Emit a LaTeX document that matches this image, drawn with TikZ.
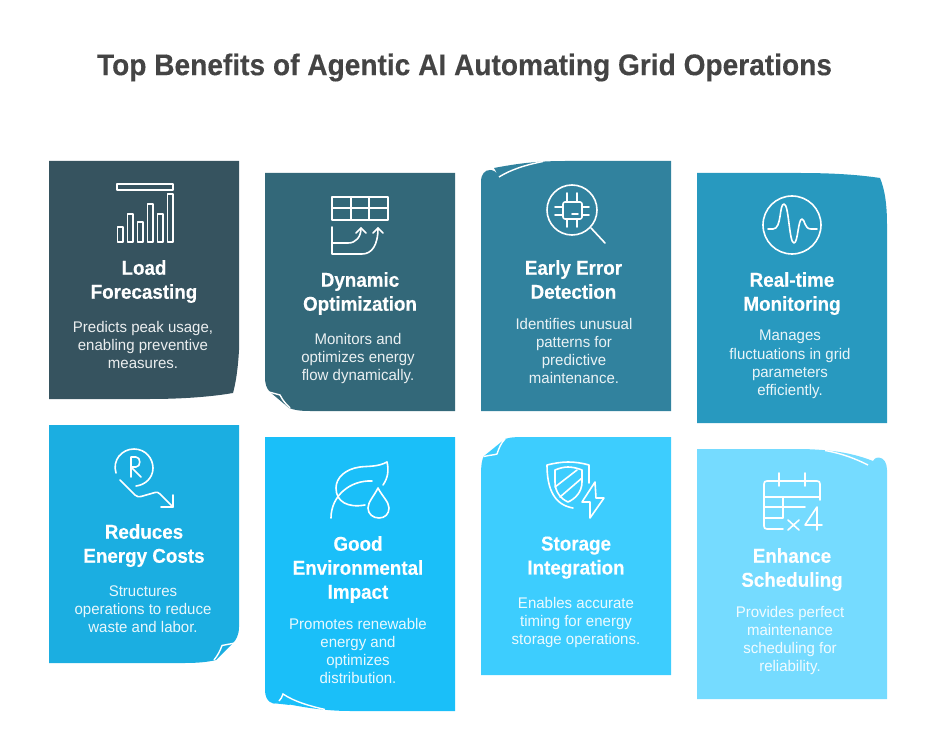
\documentclass[tikz,border=0pt]{standalone}
\usepackage{fontspec}
\setmainfont{Liberation Sans}
\newfontfamily\headfam[FakeStretch=0.94,FakeBold=0.25]{Liberation Sans Bold}
\newfontfamily\ttlfam[FakeStretch=0.94,FakeBold=0.25]{Liberation Sans Bold}
\newfontfamily\bodyfam[FakeStretch=0.975]{Liberation Sans}
\definecolor{cA}{HTML}{36535F}
\definecolor{cB}{HTML}{336879}
\definecolor{cC}{HTML}{31829E}
\definecolor{cD}{HTML}{2899BF}
\definecolor{cE}{HTML}{1BAEE1}
\definecolor{cF}{HTML}{1ABFF9}
\definecolor{cG}{HTML}{3DCDFE}
\definecolor{cH}{HTML}{75DBFF}
\definecolor{titlec}{HTML}{444444}
\tikzset{
  x=1pt,y=-1pt,
  head/.style={font=\headfam\fontsize{20}{24}\selectfont,text=white,align=center,inner sep=0pt,
    execute at begin node={\rule{0pt}{15pt}},execute at end node={\rule[-5pt]{0pt}{5pt}}},
  body/.style={font=\bodyfam\fontsize{15.4}{18.2}\selectfont,text=white,text opacity=.9,align=center,inner sep=0pt,
    execute at begin node={\rule{0pt}{11pt}},execute at end node={\rule[-4pt]{0pt}{4pt}}},
  ttl/.style={font=\ttlfam\fontsize{29.9}{34}\selectfont,text=titlec,inner sep=0pt},
  icon/.style={draw=white,line width=1.6pt,line cap=round,line join=round},
  crease/.style={draw=white,line width=1.4pt,line join=miter},
}
\begin{document}
\begin{tikzpicture}
\useasboundingbox (0,0) rectangle (935,746);
\node[ttl] (title) at (464.5,67.5) {Top Benefits of Agentic AI Automating Grid Operations};

% cards
\fill[cA] (49,161) -- (239,161) -- (239,350) .. controls (238,368) and (236,382) .. (233,393) .. controls (210,397) and (180,399) .. (150,399) -- (49,399) -- cycle;
\fill[cB] (265,173) -- (455,173) -- (455,411) -- (310,411) .. controls (300,411) and (294,410) .. (289,408) -- (270,392) .. controls (266,388) and (265,383) .. (265,377) -- cycle;
\draw[crease] (269,392) -- (280,395) .. controls (283,401) and (286,404) .. (290,408);
\fill[cC] (671,161) -- (671,411) -- (481,411) -- (481,182) .. controls (481,174) and (485,170) .. (490,170) .. controls (494,170) and (496,172) .. (498,175) -- (494,168) .. controls (515,164) and (535,161) .. (565,161) -- cycle;
\draw[crease] (499,177) .. controls (510,170) and (525,165) .. (543,161.5);
\fill[cD] (697,173) -- (800,173) .. controls (835,173) and (860,175) .. (880,178) .. controls (885,190) and (887,205) .. (887,225) -- (887,423) -- (697,423) -- cycle;
\fill[cE] (49,425) -- (239,425) -- (239,627) .. controls (239,635) and (236,640) .. (233,643) -- (216,660) .. controls (208,662) and (198,663) .. (185,663) -- (49,663) -- cycle;
\draw[crease] (235,643) -- (222,645.5) .. controls (220,651) and (218,655) .. (214,660);
\fill[cF] (265,437) -- (455,437) -- (455,711) -- (350,711) .. controls (325,711) and (300,707) .. (278,702) .. controls (275,704) and (272,704) .. (270,702) .. controls (267,700) and (265,696) .. (265,690) -- cycle;
\fill[cF] (272,703) .. controls (276,704) and (280,702) .. (283,695) -- (290,705) -- cycle;
\draw[crease] (279,701) .. controls (281,699) and (282,697) .. (283,694) .. controls (295,702) and (310,706) .. (325,709.5);
\fill[cG] (671,437) -- (671,675) -- (481,675) -- (481,475) .. controls (481,465) and (482,459) .. (484,456) -- (505,439) .. controls (510,437) and (518,437) .. (530,437) -- cycle;
\draw[crease] (484,456.5) .. controls (490,455) and (494,455) .. (497,454) .. controls (499,448) and (501,443) .. (505,439);
\fill[cH] (697,449) -- (800,449) .. controls (835,449.5) and (855,454) .. (873,461) .. controls (875,458) and (877,457) .. (879,457.5) .. controls (884,458) and (887,463) .. (887,470) -- (887,699) -- (697,699) -- cycle;
\draw[crease] (868,465) .. controls (855,458.5) and (842,453.5) .. (825,450.5);

% headings
\node[head] (h1) at (144,282) {Load\\Forecasting};
\node[head] (h2) at (360,294) {Dynamic\\Optimization};
\node[head] (h3) at (573.5,282) {Early Error\\Detection};
\node[head] (h4) at (792,294) {Real-time\\Monitoring};
\node[head] (h5) at (144,546) {Reduces\\Energy Costs};
\node[head] (h6) at (358,570) {Good\\Environmental\\Impact};
\node[head] (h7) at (576,558) {Storage\\Integration};
\node[head] (h8) at (792,570) {Enhance\\Scheduling};

% bodies
\node[body] (b1) at (143,347) {Predicts peak usage,\\enabling preventive\\measures.};
\node[body] (b2) at (358,359) {Monitors and\\optimizes energy\\flow dynamically.};
\node[body] (b3) at (574,353) {Identifies unusual\\patterns for\\predictive\\maintenance.};
\node[body] (b4) at (790,365) {Manages\\fluctuations in grid\\parameters\\efficiently.};
\node[body] (b5) at (143,611) {Structures\\operations to reduce\\waste and labor.};
\node[body] (b6) at (358,653) {Promotes renewable\\energy and\\optimizes\\distribution.};
\node[body] (b7) at (576,623) {Enables accurate\\timing for energy\\storage operations.};
\node[body] (b8) at (790,641) {Provides perfect\\maintenance\\scheduling for\\reliability.};

% icon 1
\draw[icon] (117,184) rectangle (173,190);
\draw[icon] (117.3,242) rectangle (123,227);
\draw[icon] (127.3,242) rectangle (133,214);
\draw[icon] (137.3,242) rectangle (143,222);
\draw[icon] (147.3,242) rectangle (153,204);
\draw[icon] (157.3,242) rectangle (163,214);
\draw[icon] (167.3,242) rectangle (173,194);
% icon 2
\draw[icon] (332,197) rectangle (388,220);
\draw[icon] (332,208) -- (388,208) (351,197) -- (351,220) (369,197) -- (369,220);
\draw[icon] (332,227) -- (332,254) -- (362,254) .. controls (372,254) and (378,245) .. (378,228);
\draw[icon] (373,233) -- (378,228) -- (383,233);
\draw[icon] (332,243) -- (348,243) .. controls (356,243) and (361,237) .. (361,228);
\draw[icon] (356,233) -- (361,228) -- (366,233);
% icon 3
\draw[icon] (572,210) circle[radius=25];
\draw[icon] (591,228) -- (605,243);
\draw[icon,rounded corners=2pt] (563,202) rectangle (582,219);
\draw[icon] (567,193) -- (567,202) (577,193) -- (577,202) (567,219) -- (567,227) (577,219) -- (577,227);
\draw[icon] (555,207) -- (563,207) (555,215) -- (563,215) (582,207) -- (589,207) (582,215) -- (589,215);
\draw[icon] (572,214) -- (578,214);
% icon 4
\draw[icon] (792,225) circle[radius=29];
\draw[icon] (768,229) -- (773,229) .. controls (782,229) and (779,204) .. (784,204) .. controls (789,204) and (789,243) .. (794,243) .. controls (798,243) and (798,219) .. (802,219) .. controls (805,219) and (804,229) .. (811,229) -- (817,229);
% icon 5
\draw[icon] (116,473) .. controls (112,460) and (122,449) .. (134,449) .. controls (146,449) and (153,459) .. (153,468) .. controls (153,478) and (145,485) .. (136,486);
\draw[icon] (131,477) -- (131,457) -- (136,457) .. controls (141,457) and (141,467) .. (136,467) -- (131,467) -- (141,477);
\draw[icon] (120,480) -- (135,495) .. controls (137,497) and (139,497) .. (141,496.5) -- (155,492.5) .. controls (157,492) and (158,492) .. (160,494) -- (173,507);
\draw[icon] (173,495) -- (173,507) -- (161,507);
% icon 6
\draw[icon] (387,462) .. controls (378,467) and (368,466) .. (360,467) .. controls (345,469) and (336,478) .. (336,488) .. controls (336,502) and (348,508) .. (365,505);
\draw[icon] (387,462) .. controls (389,470) and (388,478) .. (383,485);
\draw[icon] (331,518) .. controls (331,496) and (350,480) .. (372,481);
\draw[icon] (378,488) .. controls (374,496) and (368,502) .. (368,508) .. controls (368,514) and (373,518) .. (379,518) .. controls (385,518) and (389,514) .. (389,508) .. controls (389,502) and (382,496) .. (378,488) -- cycle;
% icon 7
\draw[icon] (573,508) .. controls (555,505) and (547,490) .. (547,465) .. controls (555,463) and (562,462) .. (568,462) .. controls (575,462) and (582,463) .. (589,465) -- (589,483);
\draw[icon] (555,470) .. controls (560,468) and (564,467) .. (568,467) .. controls (572,467) and (577,468) .. (582,470) -- (582,482) .. controls (582,492) and (575,499) .. (568,502) .. controls (561,499) and (555,492) .. (555,482) -- cycle;
\draw[icon] (555,487) -- (577,470) (560,497) -- (582,478);
\draw[icon] (595,482) -- (582,502) -- (590,502) -- (590,518) -- (604,498) -- (596,498) -- cycle;
% icon 8
\draw[icon] (783,529) -- (767,529) .. controls (765,529) and (764,528) .. (764,526) -- (764,484) .. controls (764,482) and (765,481) .. (767,481) -- (817,481) .. controls (819,481) and (820,482) .. (820,484) -- (820,500);
\draw[icon] (779,473) -- (779,486) (805,473) -- (805,486);
\draw[icon] (764,497) -- (820,497) (764,507) -- (805,507) (764,518) -- (783,518) -- (783,497);
\draw[icon] (788,520) -- (799,530) (799,520) -- (788,530);
\draw[icon] (817,530) -- (817,507) -- (805,525) -- (822,525);
\end{tikzpicture}
\end{document}
